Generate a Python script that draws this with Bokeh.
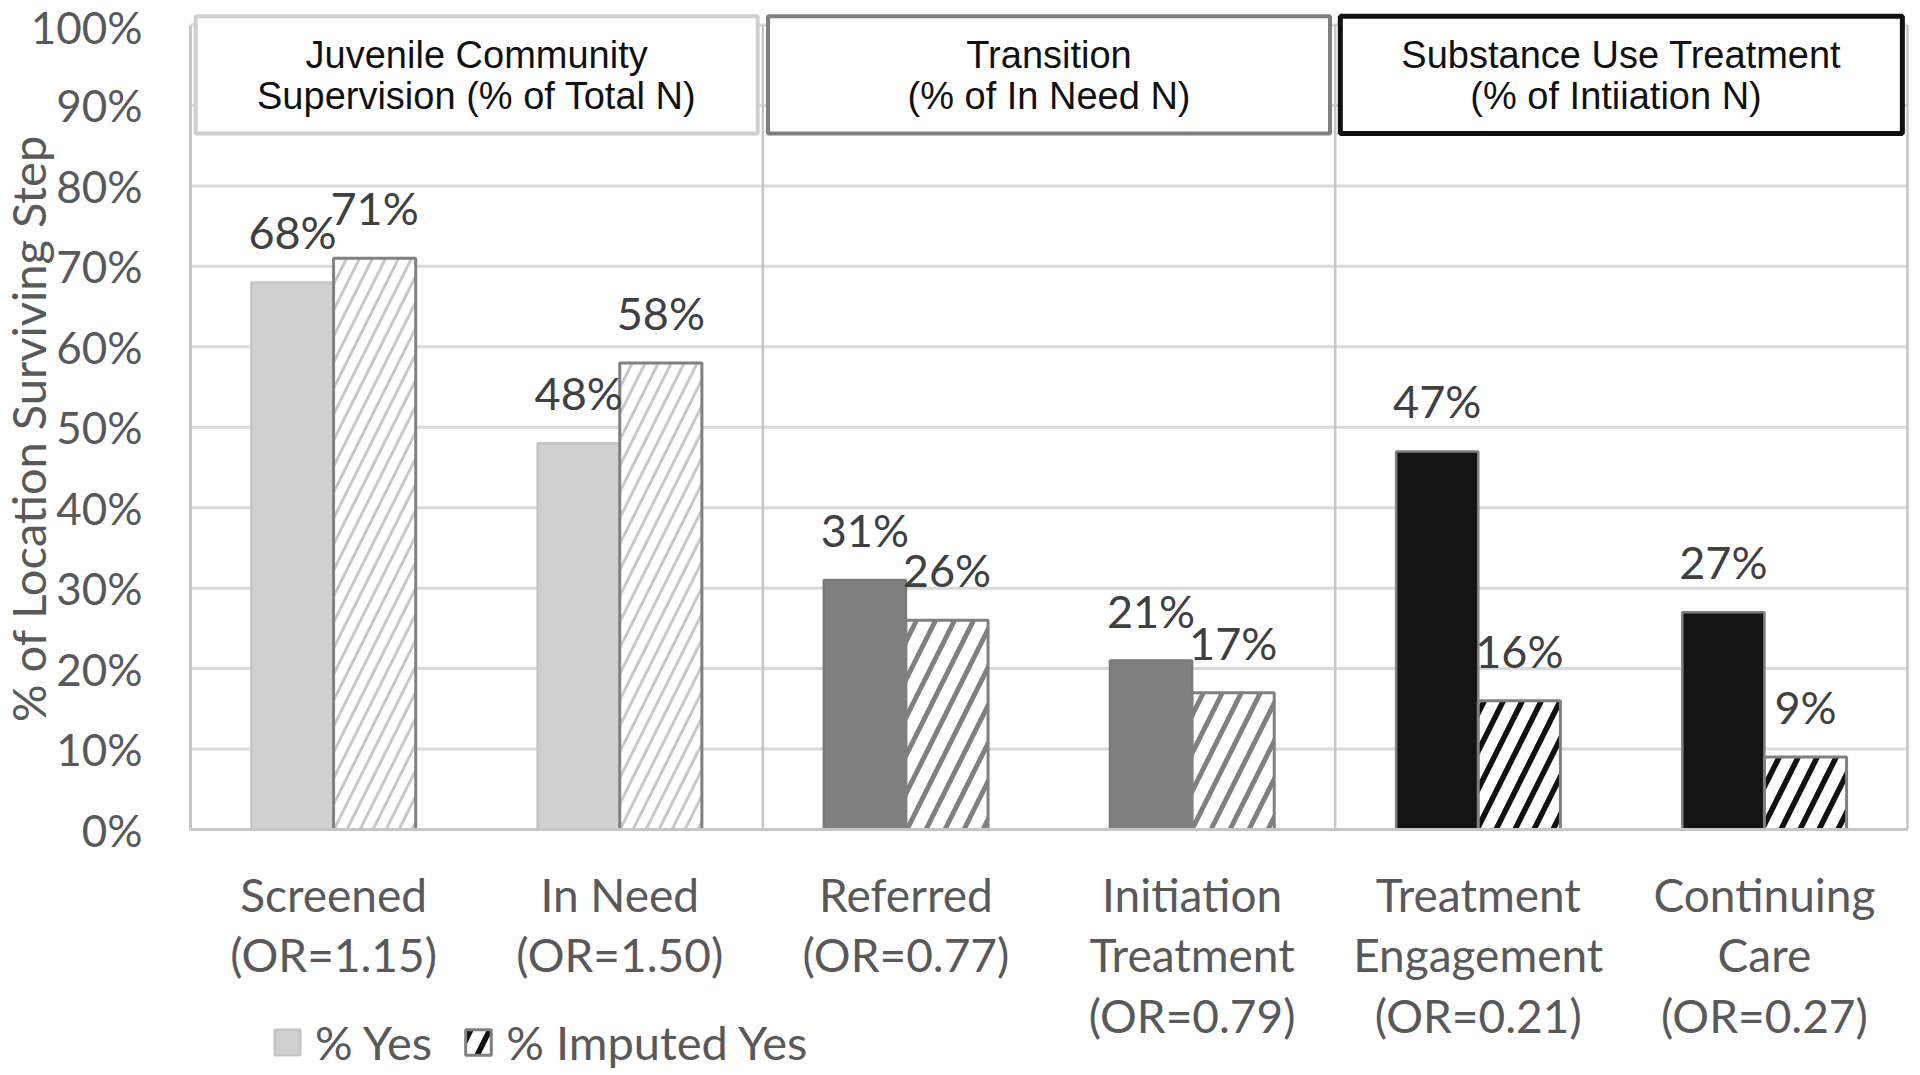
import numpy as np
from bokeh.plotting import figure
from bokeh.models import (ColumnDataSource, Range1d, FixedTicker, Legend, LegendItem,
                          PrintfTickFormatter, Label)
from bokeh.core.properties import value
from bokeh.embed import file_html
from bokeh.resources import INLINE

# ---------------- data ----------------
categories = ["Screened\n(OR=1.15)", "In Need\n(OR=1.50)", "Referred\n(OR=0.77)",
              "Initiation\nTreatment\n(OR=0.79)", "Treatment\nEngagement\n(OR=0.21)",
              "Continuing\nCare\n(OR=0.27)"]
pct_yes = [68, 48, 31, 21, 47, 27]
pct_imputed = [71, 58, 26, 17, 16, 9]
group_titles = ["Juvenile Community\nSupervision (% of Total N)",
                "Transition\n(% of In Need N)",
                "Substance Use Treatment\n(% of  Intiiation N)"]
group_first = [0, 2, 4]
group_size = [2, 2, 2]
y_ticks = [0, 10, 20, 30, 40, 50, 60, 70, 80, 90, 100]
series_names = ["% Yes", "% Imputed Yes"]
y_title = "% of Location Surviving Step"

# ---------------- styles ----------------
yes_fill = ["#d0d0d0", "#d0d0d0", "#808080", "#808080", "#141414", "#141414"]
yes_line = ["#c4c4c4", "#c4c4c4", "#7a7a7a", "#7a7a7a", "#7f7f7f", "#7f7f7f"]
imp_hatch = ["#c8c8c8", "#c8c8c8", "#808080", "#808080", "#111111", "#111111"]
imp_scale = [26, 26, 38, 38, 38, 38]
imp_weight = [3, 3, 5, 5, 5.5, 5.5]
box_line = ["#d0d0d0", "#7f7f7f", "#111111"]
box_width = [4, 4, 5]

n = len(categories)
centers = np.arange(n) + 0.5
bar_w = 0.287

src = ColumnDataSource(dict(
    xc=centers, yes=pct_yes, imp=pct_imputed,
    yes_lab=[f"{v}%" for v in pct_yes], imp_lab=[f"{v}%" for v in pct_imputed],
    yes_fill=yes_fill, yes_line=yes_line, imp_hatch=imp_hatch,
    imp_scale=imp_scale, imp_weight=imp_weight,
))
src.data["x_yes"] = centers - bar_w / 2
src.data["x_imp"] = centers + bar_w / 2

gfirst = np.array(group_first, dtype=float)
gend = gfirst + np.array(group_size)
gsrc = ColumnDataSource(dict(
    left=gfirst + 0.018, right=gend - 0.018, title=group_titles,
    xc=(gfirst + gend) / 2, line=box_line, lw=box_width,
))
sep_src = ColumnDataSource(dict(x=list(gfirst[1:]) + [float(gend[-1])]))
grid_src = ColumnDataSource(dict(y=y_ticks))
x_lo, x_hi = 0.0, float(gend[-1])

# frame covers the whole canvas; axes are pinned at 0
W, H = 1920, 1075
PX_X = 286.17   # px per category
PX_Y = 8.045    # px per percent
X0, Y0 = 190, 829  # canvas position of the origin
p = figure(width=W, height=H, output_backend="svg", toolbar_location=None,
           x_range=Range1d(-X0 / PX_X, (W - X0) / PX_X),
           y_range=Range1d(-(H - Y0) / PX_Y, Y0 / PX_Y),
           min_border_left=0, min_border_right=0, min_border_top=0,
           min_border_bottom=0)
p.outline_line_color = None
p.background_fill_color = "white"
p.border_fill_color = "white"
p.xgrid.visible = False
p.ygrid.visible = False

# horizontal gridlines
p.segment(x0=x_lo, y0="y", x1=x_hi, y1="y", source=grid_src,
          line_color="#d9d9d9", line_width=3)
# separators and right border
p.segment(x0="x", y0=y_ticks[0], x1="x", y1=y_ticks[-1], source=sep_src,
          line_color="#c6c6c6", line_width=2.5)

# header boxes
p.quad(left="left", right="right", bottom=86.5, top=101.1, source=gsrc,
       fill_color="white", line_color="line", line_width="lw")
p.text(x="xc", y=93.7, text="title", source=gsrc, text_align="center",
       text_baseline="middle", text_font=value("Liberation Sans"),
       text_font_size="38px", text_color="#111111", text_line_height=0.98)

# bars
r_yes = p.vbar(x="x_yes", top="yes", bottom=0, width=bar_w, source=src,
               fill_color="yes_fill", line_color="yes_line", line_width=2.5)
r_imp = p.vbar(x="x_imp", top="imp", bottom=0, width=bar_w, source=src,
               fill_color="white", line_color="#808080", line_width=3,
               hatch_pattern="/", hatch_color="imp_hatch", hatch_scale="imp_scale",
               hatch_weight="imp_weight")

# value labels
lab_kw = dict(text_align="center", text_baseline="middle", y_offset=-50,
              text_font=value("Lato"), text_font_size="45px", text_color="#404040")
p.text(x="x_yes", y="yes", text="yes_lab", source=src, **lab_kw)
p.text(x="x_imp", y="imp", text="imp_lab", source=src, **lab_kw)

# y axis pinned at x=0
p.yaxis.fixed_location = 0
p.yaxis.ticker = FixedTicker(ticks=y_ticks)
p.yaxis.formatter = PrintfTickFormatter(format="%d%%")
p.yaxis.bounds = (y_ticks[0], y_ticks[-1])
p.yaxis.major_label_text_font = "Lato"
p.yaxis.major_label_text_font_size = "44px"
p.yaxis.major_label_text_color = "#595959"
p.yaxis.major_label_standoff = 42
p.yaxis.major_tick_line_color = None
p.yaxis.minor_tick_line_color = None
p.yaxis.axis_line_color = "#c6c6c6"
p.yaxis.axis_line_width = 3

# x axis pinned at y=0
p.xaxis.fixed_location = 0
p.xaxis.bounds = (x_lo, x_hi)
p.xaxis.ticker = FixedTicker(ticks=list(centers))
p.xaxis.major_label_overrides = {float(c): lab for c, lab in zip(centers, categories)}
p.xaxis.major_label_text_font = "Lato"
p.xaxis.major_label_text_font_size = "46px"
p.xaxis.major_label_text_color = "#595959"
p.xaxis.major_label_text_line_height = 1.105
p.xaxis.major_label_standoff = 31
p.xaxis.major_tick_line_color = None
p.xaxis.minor_tick_line_color = None
p.xaxis.axis_line_color = "#c6c6c6"
p.xaxis.axis_line_width = 3

# y axis title
p.add_layout(Label(x=27, y=H - 428, x_units="screen", y_units="screen",
                   text=y_title, angle=np.pi / 2,
                   text_align="center", text_baseline="middle",
                   text_font="Lato", text_font_size="47px", text_color="#595959"))

# legend
legend = Legend(items=[LegendItem(label=series_names[0], renderers=[r_yes], index=0),
                       LegendItem(label=series_names[1], renderers=[r_imp], index=4)],
                location=(271, 5), orientation="horizontal",
                glyph_width=32, glyph_height=32, label_standoff=12, spacing=30,
                padding=0, margin=0, border_line_color=None, background_fill_alpha=0,
                label_text_font="Lato", label_text_font_size="47px",
                label_text_color="#595959")
p.add_layout(legend)

open("out.html", "w").write(file_html(p, INLINE))
